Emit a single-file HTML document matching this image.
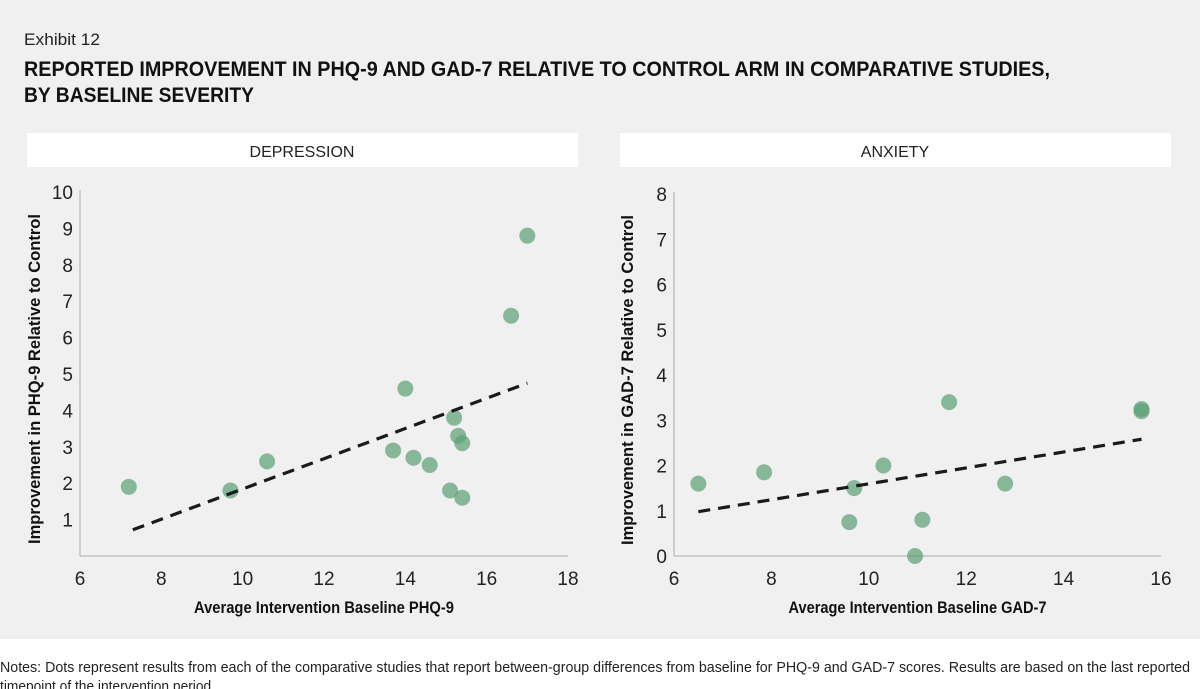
<!DOCTYPE html>
<html><head><meta charset="utf-8"><style>
html,body{margin:0;padding:0;background:#fff;}
svg{display:block;}
text{font-family:"Liberation Sans Narrow","Liberation Sans",sans-serif;}
</style></head><body>
<svg id="s" width="1200" height="689" viewBox="0 0 1200 689" xmlns="http://www.w3.org/2000/svg">
<rect x="0" y="0" width="1200" height="639" fill="#f0f0f0"/>
<text x="24" y="45" font-size="17" fill="#222" textLength="76" lengthAdjust="spacingAndGlyphs">Exhibit 12</text>
<text x="24" y="76" font-size="21" font-weight="bold" fill="#111" textLength="1026" lengthAdjust="spacingAndGlyphs">REPORTED IMPROVEMENT IN PHQ-9 AND GAD-7 RELATIVE TO CONTROL ARM IN COMPARATIVE STUDIES,</text>
<text x="24" y="102" font-size="21" font-weight="bold" fill="#111" textLength="230" lengthAdjust="spacingAndGlyphs">BY BASELINE SEVERITY</text>
<rect x="27" y="133" width="551" height="34" fill="#fff"/>
<text x="302" y="157" font-size="16" text-anchor="middle" fill="#222">DEPRESSION</text>
<rect x="620" y="133" width="551" height="34" fill="#fff"/>
<text x="895" y="157" font-size="16" text-anchor="middle" fill="#222">ANXIETY</text>
<g id="left"></g><g id="right"></g>
<text x="0" y="672" font-size="15" fill="#222" textLength="1190" lengthAdjust="spacingAndGlyphs">Notes: Dots represent results from each of the comparative studies that report between-group differences from baseline for PHQ-9 and GAD-7 scores. Results are based on the last reported</text>
<text x="0" y="691" font-size="15" fill="#222" textLength="215" lengthAdjust="spacingAndGlyphs">timepoint of the intervention period.</text>
</svg>
<script>
const depX = [7.2, 9.7, 10.6, 14.0, 13.7, 14.2, 14.6, 15.2, 15.3, 15.4, 15.1, 15.4, 16.6, 17.0];
const depY = [1.9, 1.8, 2.6, 4.6, 2.9, 2.7, 2.5, 3.8, 3.3, 3.1, 1.8, 1.6, 6.6, 8.8];
const depTrendX = [7.3, 17.0];
const depTrendY = [0.72, 4.75];
const depXTicks = [6, 8, 10, 12, 14, 16, 18];
const depYTicks = [1, 2, 3, 4, 5, 6, 7, 8, 9, 10];
const anxX = [6.5, 7.85, 9.6, 9.7, 10.3, 10.95, 11.1, 11.65, 12.8, 15.6, 15.6];
const anxY = [1.6, 1.85, 0.75, 1.5, 2.0, 0.0, 0.8, 3.4, 1.6, 3.25, 3.2];
const anxTrendX = [6.5, 15.6];
const anxTrendY = [0.98, 2.58];
const anxXTicks = [6, 8, 10, 12, 14, 16];
const anxYTicks = [0, 1, 2, 3, 4, 5, 6, 7, 8];

const NS = "http://www.w3.org/2000/svg";
function mk(parent, tag, attrs, txt) {
  const e = document.createElementNS(NS, tag);
  for (const k in attrs) e.setAttribute(k, attrs[k]);
  if (txt !== undefined) e.textContent = txt;
  parent.appendChild(e);
  return e;
}
function panel(gid, cfg) {
  const g = document.getElementById(gid);
  const sx = v => cfg.x0 + (v - cfg.xmin) / (cfg.xmax - cfg.xmin) * (cfg.x1 - cfg.x0);
  const sy = v => cfg.y0 - (v - cfg.ymin) / (cfg.ymax - cfg.ymin) * (cfg.y0 - cfg.y1);
  let e;
  e = mk(g, "line", {x1: sx(cfg.xmin), y1: cfg.y1 - 2, x2: sx(cfg.xmin), y2: cfg.y0, stroke: "#aaa", "stroke-width": 1});
  
  
  e = mk(g, "line", {x1: sx(cfg.xmin), y1: cfg.y0, x2: sx(cfg.xmax), y2: cfg.y0, stroke: "#aaa", "stroke-width": 1});
  
  
  cfg.xt.forEach(t => {
    e = mk(g, "text", {x: sx(t), y: cfg.y0 + 29, "font-size": 19, "text-anchor": "middle", fill: "#222"}, String(t));
    
    
  });
  cfg.yt.forEach(t => {
    e = mk(g, "text", {x: sx(cfg.xmin) - 7, y: sy(t) + 7, "font-size": 19, "text-anchor": "end", fill: "#222"}, String(t));
    
    
  });
  cfg.xs.forEach((v, i) => {
    e = mk(g, "circle", {cx: sx(v), cy: sy(cfg.ys[i]), r: 8, fill: "#5a9e74", "fill-opacity": 0.7});
    
    
  });
  e = mk(g, "line", {x1: sx(cfg.tx[0]), y1: sy(cfg.ty[0]), x2: sx(cfg.tx[1]), y2: sy(cfg.ty[1]), stroke: "#1a1a1a", "stroke-width": 3.2, "stroke-dasharray": "12,8"});
  
  
  e = mk(g, "text", {x: (sx(cfg.xmin) + sx(cfg.xmax)) / 2, y: 613, "font-size": 17, "font-weight": "bold", "text-anchor": "middle", fill: "#111", textLength: cfg.xlw, lengthAdjust: "spacingAndGlyphs"}, cfg.xl);
  
  
  const cy = (cfg.y0 + cfg.y1) / 2 + 5;
  e = mk(g, "text", {x: cfg.ylx, y: cy, "font-size": 17, "font-weight": "bold", "text-anchor": "middle", fill: "#111", transform: "rotate(-90 " + cfg.ylx + " " + cy + ")", textLength: 330, lengthAdjust: "spacingAndGlyphs"}, cfg.yl);
  
  
}
panel("left", {p: "depression", x0: 80, x1: 568, xmin: 6, xmax: 18, y0: 556, y1: 192, ymin: 0, ymax: 10,
  xt: depXTicks, yt: depYTicks, xs: depX, ys: depY, tx: depTrendX, ty: depTrendY,
  xl: "Average Intervention Baseline PHQ-9", xlw: 260, yl: "Improvement in PHQ-9 Relative to Control", ylx: 40});
panel("right", {p: "anxiety", x0: 674, x1: 1161, xmin: 6, xmax: 16, y0: 556, y1: 194, ymin: 0, ymax: 8,
  xt: anxXTicks, yt: anxYTicks, xs: anxX, ys: anxY, tx: anxTrendX, ty: anxTrendY,
  xl: "Average Intervention Baseline GAD-7", xlw: 258, yl: "Improvement in GAD-7 Relative to Control", ylx: 633});
</script>
</body></html>
